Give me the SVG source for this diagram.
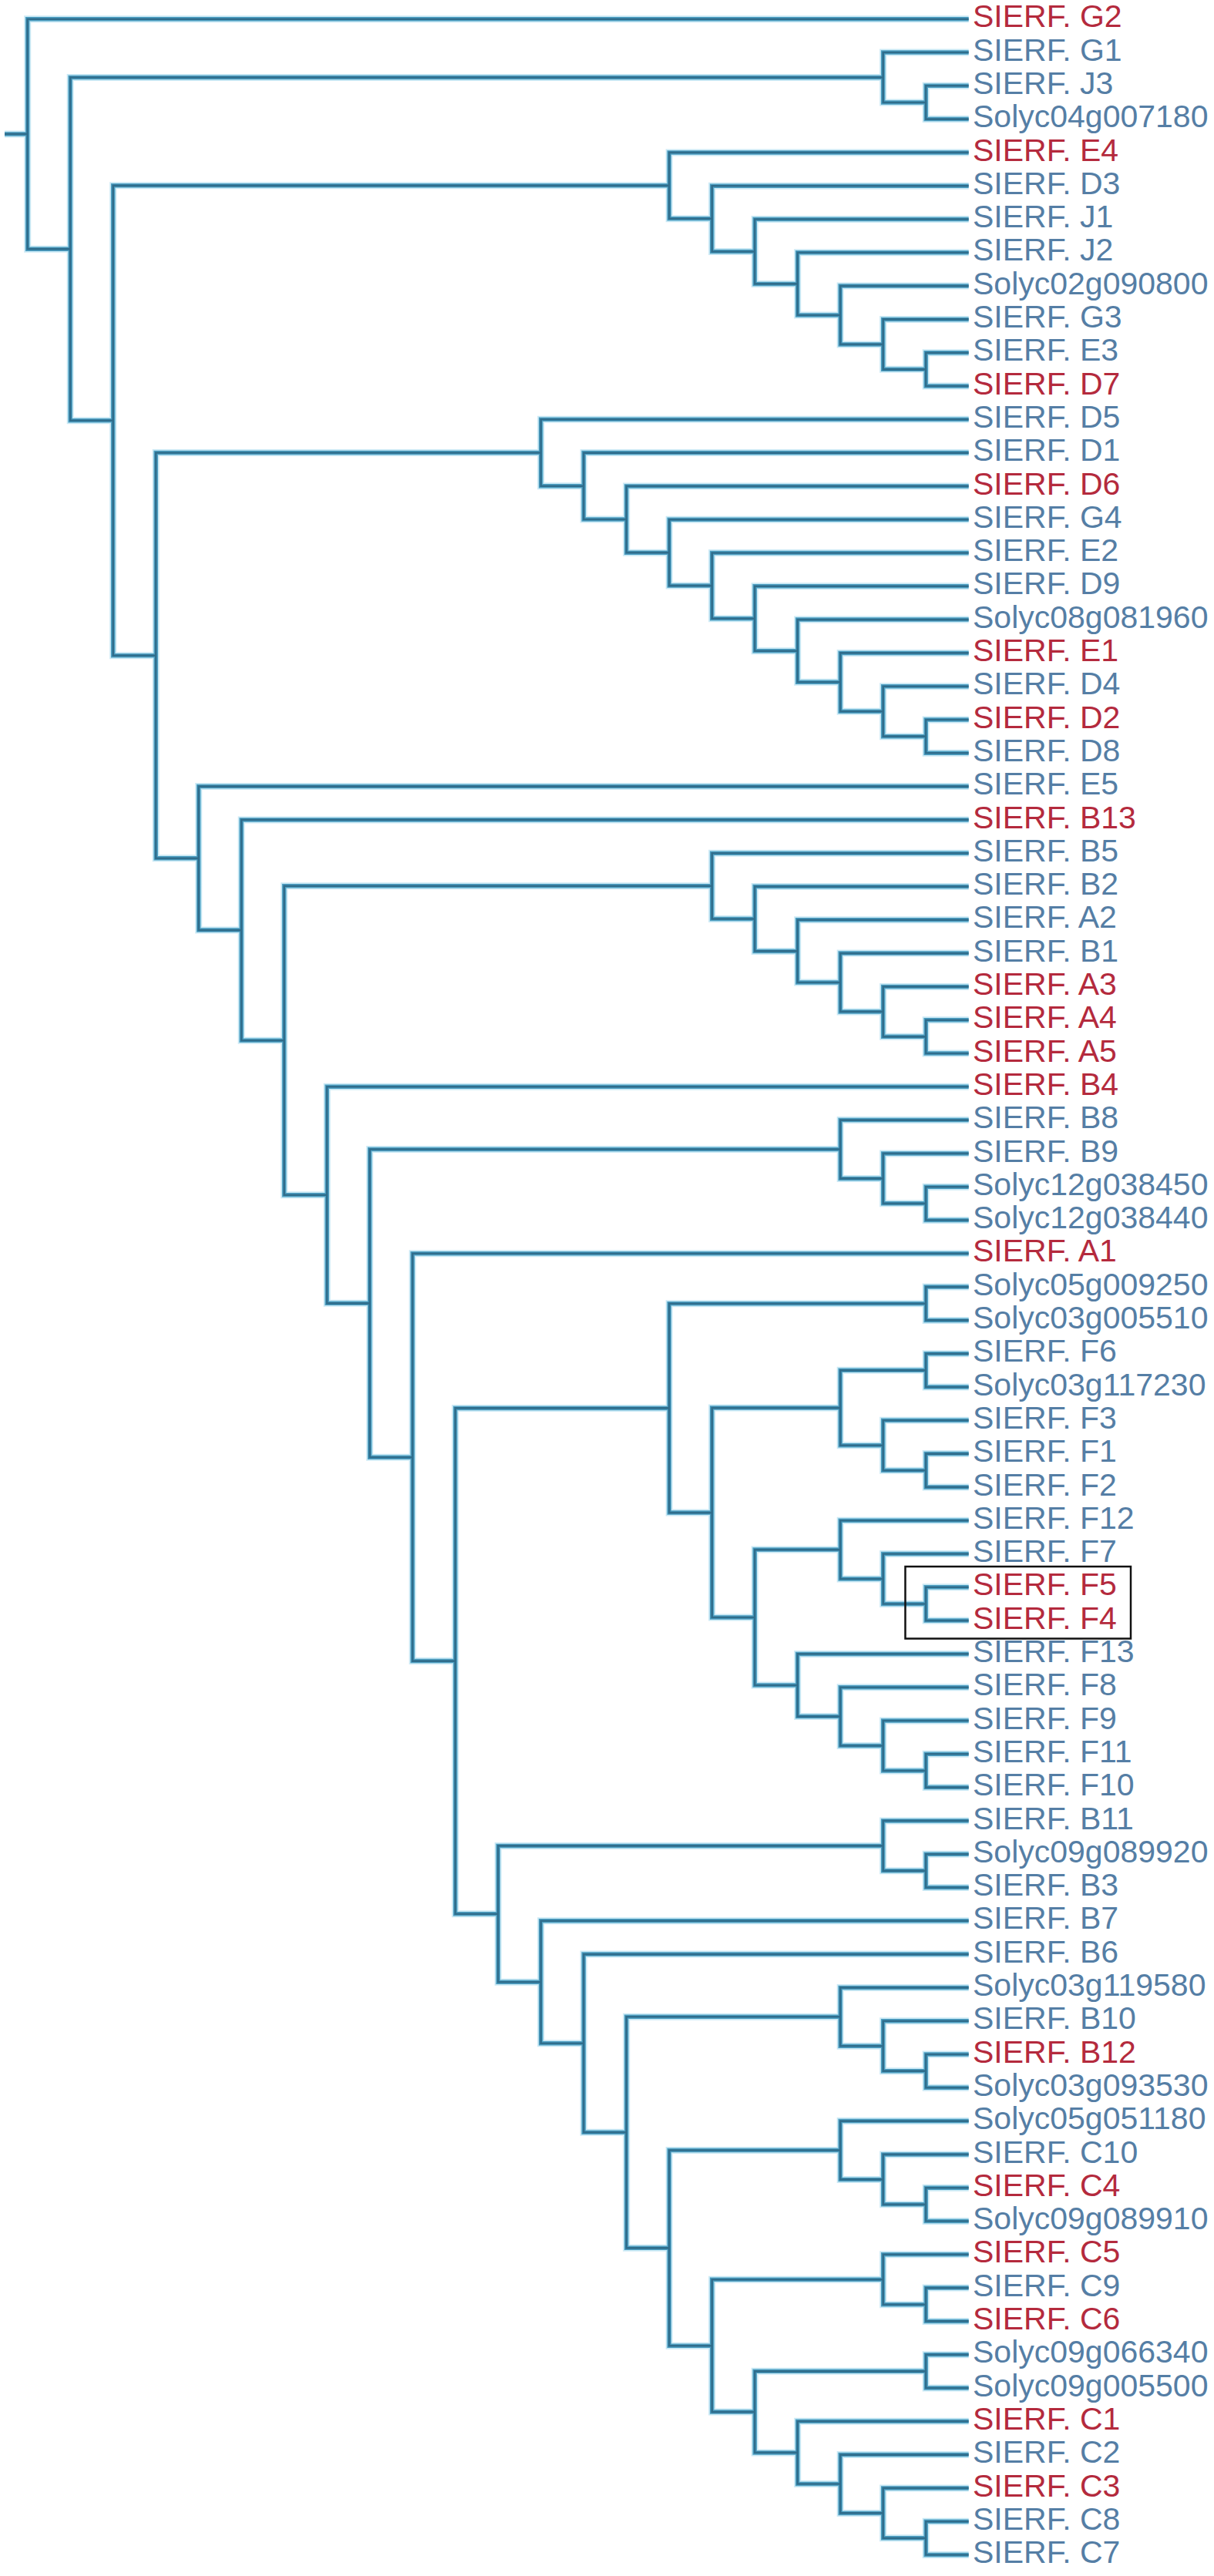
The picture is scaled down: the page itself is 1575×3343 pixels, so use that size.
<svg xmlns="http://www.w3.org/2000/svg" xmlns:xlink="http://www.w3.org/1999/xlink" width="1575" height="3343" viewBox="0 0 1575 3343">
<style>
text{font-family:"Liberation Sans",Arial,"DejaVu Sans",sans-serif;font-size:41px}
.b{fill:#557ea5}
.r{fill:#b42a3d}
.halo{fill:none;stroke:#a6dbef;stroke-width:9;opacity:.6;stroke-linejoin:miter}
.mid{fill:none;stroke:#4d9fc2;stroke-width:5.5;stroke-linejoin:miter}
.core{fill:none;stroke:#2f6d8c;stroke-width:2.6;stroke-linejoin:miter}
</style>
<defs>
<path id="tree" d="M6 173.9 H35.7
M1256.7 24.7 H35.7 V323.15 H91.2
M1145.7 100.5 H91.2 V545.8 H146.7
M1256.7 68 H1145.7 V132.95 H1201.2
M1256.7 111.3 H1201.2 V154.6 H1256.7
M868.2 240.85 H146.7 V850.7 H202.2
M1256.7 197.9 H868.2 V283.8 H923.7
M1256.7 241.2 H923.7 V326.45 H979.2
M1256.7 284.5 H979.2 V368.4 H1034.7
M1256.7 327.8 H1034.7 V409 H1090.2
M1256.7 371.1 H1090.2 V446.9 H1145.7
M1256.7 414.4 H1145.7 V479.35 H1201.2
M1256.7 457.7 H1201.2 V501 H1256.7
M701.7 587.55 H202.2 V1113.85 H257.7
M1256.7 544.3 H701.7 V630.8 H757.2
M1256.7 587.6 H757.2 V674 H812.7
M1256.7 630.9 H812.7 V717.15 H868.2
M1256.7 674.2 H868.2 V760.1 H923.7
M1256.7 717.5 H923.7 V802.75 H979.2
M1256.7 760.8 H979.2 V844.7 H1034.7
M1256.7 804.1 H1034.7 V885.3 H1090.2
M1256.7 847.4 H1090.2 V923.2 H1145.7
M1256.7 890.7 H1145.7 V955.65 H1201.2
M1256.7 934 H1201.2 V977.3 H1256.7
M1256.7 1020.6 H257.7 V1207.1 H313.2
M1256.7 1063.9 H313.2 V1350.3 H368.7
M923.7 1149.8 H368.7 V1550.8 H424.2
M1256.7 1107.2 H923.7 V1192.45 H979.2
M1256.7 1150.5 H979.2 V1234.4 H1034.7
M1256.7 1193.8 H1034.7 V1275 H1090.2
M1256.7 1237.1 H1090.2 V1312.9 H1145.7
M1256.7 1280.4 H1145.7 V1345.35 H1201.2
M1256.7 1323.7 H1201.2 V1367 H1256.7
M1256.7 1410.3 H424.2 V1691.35 H479.7
M1090.2 1491.5 H479.7 V1891.2 H535.2
M1256.7 1453.6 H1090.2 V1529.4 H1145.7
M1256.7 1496.9 H1145.7 V1561.85 H1201.2
M1256.7 1540.2 H1201.2 V1583.5 H1256.7
M1256.7 1626.8 H535.2 V2155.6 H590.7
M868.2 1827.4 H590.7 V2483.8 H646.2
M1201.2 1691.75 H868.2 V1963.1 H923.7
M1256.7 1670.1 H1201.2 V1713.4 H1256.7
M1090.2 1827.1 H923.7 V2099.05 H979.2
M1201.2 1778.35 H1090.2 V1875.8 H1145.7
M1256.7 1756.7 H1201.2 V1800 H1256.7
M1256.7 1843.3 H1145.7 V1908.25 H1201.2
M1256.7 1886.6 H1201.2 V1929.9 H1256.7
M1090.2 2011.1 H979.2 V2187 H1034.7
M1256.7 1973.2 H1090.2 V2049 H1145.7
M1256.7 2016.5 H1145.7 V2081.45 H1201.2
M1256.7 2059.8 H1201.2 V2103.1 H1256.7
M1256.7 2146.4 H1034.7 V2227.6 H1090.2
M1256.7 2189.7 H1090.2 V2265.5 H1145.7
M1256.7 2233 H1145.7 V2297.95 H1201.2
M1256.7 2276.3 H1201.2 V2319.6 H1256.7
M1145.7 2395.4 H646.2 V2572.25 H701.7
M1256.7 2362.9 H1145.7 V2427.85 H1201.2
M1256.7 2406.2 H1201.2 V2449.5 H1256.7
M1256.7 2492.8 H701.7 V2651.7 H757.2
M1256.7 2536.1 H757.2 V2767.3 H812.7
M1090.2 2617.3 H812.7 V2917.35 H868.2
M1256.7 2579.4 H1090.2 V2655.2 H1145.7
M1256.7 2622.7 H1145.7 V2687.65 H1201.2
M1256.7 2666 H1201.2 V2709.3 H1256.7
M1090.2 2790.5 H868.2 V3044.2 H923.7
M1256.7 2752.6 H1090.2 V2828.4 H1145.7
M1256.7 2795.9 H1145.7 V2860.85 H1201.2
M1256.7 2839.2 H1201.2 V2882.5 H1256.7
M1145.7 2958.3 H923.7 V3130.1 H979.2
M1256.7 2925.8 H1145.7 V2990.75 H1201.2
M1256.7 2969.1 H1201.2 V3012.4 H1256.7
M1201.2 3077.35 H979.2 V3182.9 H1034.7
M1256.7 3055.7 H1201.2 V3099 H1256.7
M1256.7 3142.3 H1034.7 V3223.5 H1090.2
M1256.7 3185.6 H1090.2 V3261.4 H1145.7
M1256.7 3228.9 H1145.7 V3293.85 H1201.2
M1256.7 3272.2 H1201.2 V3315.5 H1256.7"/>
</defs>
<rect x="0" y="0" width="1575" height="3343" fill="#ffffff"/>
<g id="connectors">
<use xlink:href="#tree" href="#tree" class="halo"/>
<use xlink:href="#tree" href="#tree" class="mid"/>
<use xlink:href="#tree" href="#tree" class="core"/>
</g>
<g id="leaves">
<g id="G2"><text class="r" x="1262" y="35.3">SIERF. G2</text></g>
<g id="G1"><text class="b" x="1262" y="78.6">SIERF. G1</text></g>
<g id="J3"><text class="b" x="1262" y="121.9">SIERF. J3</text></g>
<g id="Solyc04g007180"><text class="b" x="1262" y="165.2">Solyc04g007180</text></g>
<g id="E4"><text class="r" x="1262" y="208.5">SIERF. E4</text></g>
<g id="D3"><text class="b" x="1262" y="251.8">SIERF. D3</text></g>
<g id="J1"><text class="b" x="1262" y="295.1">SIERF. J1</text></g>
<g id="J2"><text class="b" x="1262" y="338.4">SIERF. J2</text></g>
<g id="Solyc02g090800"><text class="b" x="1262" y="381.7">Solyc02g090800</text></g>
<g id="G3"><text class="b" x="1262" y="425">SIERF. G3</text></g>
<g id="E3"><text class="b" x="1262" y="468.3">SIERF. E3</text></g>
<g id="D7"><text class="r" x="1262" y="511.6">SIERF. D7</text></g>
<g id="D5"><text class="b" x="1262" y="554.9">SIERF. D5</text></g>
<g id="D1"><text class="b" x="1262" y="598.2">SIERF. D1</text></g>
<g id="D6"><text class="r" x="1262" y="641.5">SIERF. D6</text></g>
<g id="G4"><text class="b" x="1262" y="684.8">SIERF. G4</text></g>
<g id="E2"><text class="b" x="1262" y="728.1">SIERF. E2</text></g>
<g id="D9"><text class="b" x="1262" y="771.4">SIERF. D9</text></g>
<g id="Solyc08g081960"><text class="b" x="1262" y="814.7">Solyc08g081960</text></g>
<g id="E1"><text class="r" x="1262" y="858">SIERF. E1</text></g>
<g id="D4"><text class="b" x="1262" y="901.3">SIERF. D4</text></g>
<g id="D2"><text class="r" x="1262" y="944.6">SIERF. D2</text></g>
<g id="D8"><text class="b" x="1262" y="987.9">SIERF. D8</text></g>
<g id="E5"><text class="b" x="1262" y="1031.2">SIERF. E5</text></g>
<g id="B13"><text class="r" x="1262" y="1074.5">SIERF. B13</text></g>
<g id="B5"><text class="b" x="1262" y="1117.8">SIERF. B5</text></g>
<g id="B2"><text class="b" x="1262" y="1161.1">SIERF. B2</text></g>
<g id="A2"><text class="b" x="1262" y="1204.4">SIERF. A2</text></g>
<g id="B1"><text class="b" x="1262" y="1247.7">SIERF. B1</text></g>
<g id="A3"><text class="r" x="1262" y="1291">SIERF. A3</text></g>
<g id="A4"><text class="r" x="1262" y="1334.3">SIERF. A4</text></g>
<g id="A5"><text class="r" x="1262" y="1377.6">SIERF. A5</text></g>
<g id="B4"><text class="r" x="1262" y="1420.9">SIERF. B4</text></g>
<g id="B8"><text class="b" x="1262" y="1464.2">SIERF. B8</text></g>
<g id="B9"><text class="b" x="1262" y="1507.5">SIERF. B9</text></g>
<g id="Solyc12g038450"><text class="b" x="1262" y="1550.8">Solyc12g038450</text></g>
<g id="Solyc12g038440"><text class="b" x="1262" y="1594.1">Solyc12g038440</text></g>
<g id="A1"><text class="r" x="1262" y="1637.4">SIERF. A1</text></g>
<g id="Solyc05g009250"><text class="b" x="1262" y="1680.7">Solyc05g009250</text></g>
<g id="Solyc03g005510"><text class="b" x="1262" y="1724">Solyc03g005510</text></g>
<g id="F6"><text class="b" x="1262" y="1767.3">SIERF. F6</text></g>
<g id="Solyc03g117230"><text class="b" x="1262" y="1810.6">Solyc03g117230</text></g>
<g id="F3"><text class="b" x="1262" y="1853.9">SIERF. F3</text></g>
<g id="F1"><text class="b" x="1262" y="1897.2">SIERF. F1</text></g>
<g id="F2"><text class="b" x="1262" y="1940.5">SIERF. F2</text></g>
<g id="F12"><text class="b" x="1262" y="1983.8">SIERF. F12</text></g>
<g id="F7"><text class="b" x="1262" y="2027.1">SIERF. F7</text></g>
<g id="F5"><text class="r" x="1262" y="2070.4">SIERF. F5</text></g>
<g id="F4"><text class="r" x="1262" y="2113.7">SIERF. F4</text></g>
<g id="F13"><text class="b" x="1262" y="2157">SIERF. F13</text></g>
<g id="F8"><text class="b" x="1262" y="2200.3">SIERF. F8</text></g>
<g id="F9"><text class="b" x="1262" y="2243.6">SIERF. F9</text></g>
<g id="F11"><text class="b" x="1262" y="2286.9">SIERF. F11</text></g>
<g id="F10"><text class="b" x="1262" y="2330.2">SIERF. F10</text></g>
<g id="B11"><text class="b" x="1262" y="2373.5">SIERF. B11</text></g>
<g id="Solyc09g089920"><text class="b" x="1262" y="2416.8">Solyc09g089920</text></g>
<g id="B3"><text class="b" x="1262" y="2460.1">SIERF. B3</text></g>
<g id="B7"><text class="b" x="1262" y="2503.4">SIERF. B7</text></g>
<g id="B6"><text class="b" x="1262" y="2546.7">SIERF. B6</text></g>
<g id="Solyc03g119580"><text class="b" x="1262" y="2590">Solyc03g119580</text></g>
<g id="B10"><text class="b" x="1262" y="2633.3">SIERF. B10</text></g>
<g id="B12"><text class="r" x="1262" y="2676.6">SIERF. B12</text></g>
<g id="Solyc03g093530"><text class="b" x="1262" y="2719.9">Solyc03g093530</text></g>
<g id="Solyc05g051180"><text class="b" x="1262" y="2763.2">Solyc05g051180</text></g>
<g id="C10"><text class="b" x="1262" y="2806.5">SIERF. C10</text></g>
<g id="C4"><text class="r" x="1262" y="2849.8">SIERF. C4</text></g>
<g id="Solyc09g089910"><text class="b" x="1262" y="2893.1">Solyc09g089910</text></g>
<g id="C5"><text class="r" x="1262" y="2936.4">SIERF. C5</text></g>
<g id="C9"><text class="b" x="1262" y="2979.7">SIERF. C9</text></g>
<g id="C6"><text class="r" x="1262" y="3023">SIERF. C6</text></g>
<g id="Solyc09g066340"><text class="b" x="1262" y="3066.3">Solyc09g066340</text></g>
<g id="Solyc09g005500"><text class="b" x="1262" y="3109.6">Solyc09g005500</text></g>
<g id="C1"><text class="r" x="1262" y="3152.9">SIERF. C1</text></g>
<g id="C2"><text class="b" x="1262" y="3196.2">SIERF. C2</text></g>
<g id="C3"><text class="r" x="1262" y="3239.5">SIERF. C3</text></g>
<g id="C8"><text class="b" x="1262" y="3282.8">SIERF. C8</text></g>
<g id="C7"><text class="b" x="1262" y="3326.1">SIERF. C7</text></g>
</g>
<g id="highlight-box">
<rect x="1174.5" y="2033" width="292.5" height="93.5" fill="none" stroke="#111111" stroke-width="2.5"/>
</g>
</svg>
